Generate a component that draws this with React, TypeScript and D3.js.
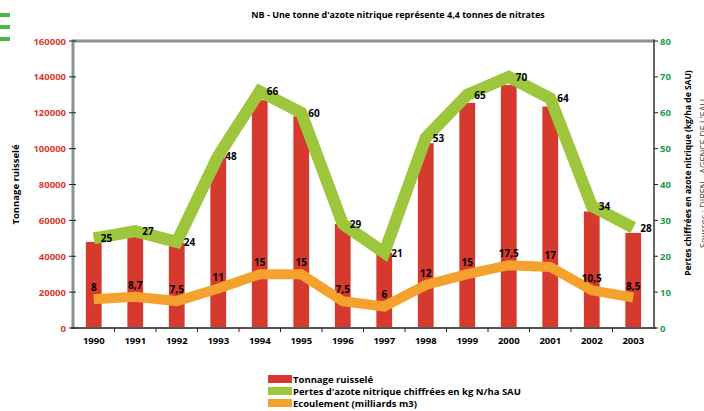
import React, { useEffect, useRef } from 'react';
import * as d3 from 'd3';

const years = ['1990', '1991', '1992', '1993', '1994', '1995', '1996', '1997', '1998', '1999', '2000', '2001', '2002', '2003'];
const tonnage = [48000, 51000, 47500, 95000, 127000, 118000, 58000, 42000, 103000, 125500, 135500, 123500, 65000, 53000];
const pertes = [25, 27, 24, 48, 66, 60, 29, 21, 53, 65, 70, 64, 34, 28];
const ecoulement = [8, 8.7, 7.5, 11, 15, 15, 7.5, 6, 12, 15, 17.5, 17, 10.5, 8.5];
const leftTicks = [0, 20000, 40000, 60000, 80000, 100000, 120000, 140000, 160000];
const rightTicks = [0, 10, 20, 30, 40, 50, 60, 70, 80];
const legendItems = [
  { label: 'Tonnage ruisselé', color: '#d63a2f' },
  { label: "Pertes d'azote nitrique chiffrées en kg N/ha SAU", color: '#9dc63c' },
  { label: 'Ecoulement (milliards m3)', color: '#f4a22d' },
];

const RED = '#d63a2f';
const GREEN = '#9dc63c';
const ORANGE = '#f4a22d';
const FONT = '"Open Sans", "DejaVu Sans", sans-serif';

const App = () => {
  const ref = useRef<SVGSVGElement | null>(null);

  useEffect(() => {
    const svg = d3.select(ref.current);
    svg.selectAll('*').remove();

    const left = 73, right = 654, top = 41, bottom = 328;

    const x = d3.scaleBand<string>().domain(years).range([left, right]).paddingInner(0.62).paddingOuter(0.31);
    const yL = d3.scaleLinear().domain([0, 160000]).range([bottom, top]);
    const yR = d3.scaleLinear().domain([0, 80]).range([bottom, top]);
    const step = x.step();
    const cx = (i: number) => (x(years[i]) as number) + x.bandwidth() / 2;

    // petites barres vertes en haut à gauche
    [15, 27, 39].forEach((yy) => {
      svg.append('rect').attr('x', 0).attr('y', yy - 2).attr('width', 10).attr('height', 4).attr('fill', '#4cb848');
    });

    // titre
    svg.append('text')
      .attr('x', 398).attr('y', 18)
      .attr('text-anchor', 'middle')
      .style('font-family', FONT).style('font-size', '9px').style('font-weight', 'bold')
      .text("NB - Une tonne d'azote nitrique représente 4,4 tonnes de nitrates");

    // barres
    svg.append('g').selectAll('rect').data(tonnage).join('rect')
      .attr('x', (d, i) => x(years[i]) as number)
      .attr('y', (d) => yL(d))
      .attr('width', x.bandwidth())
      .attr('height', (d) => bottom - yL(d))
      .attr('fill', RED);

    // cadre
    svg.append('line').attr('x1', left).attr('x2', right).attr('y1', top).attr('y2', top)
      .attr('stroke', '#8a9299').attr('stroke-width', 3);
    svg.append('line').attr('x1', left).attr('x2', left).attr('y1', top - 1.5).attr('y2', bottom)
      .attr('stroke', '#8a9299').attr('stroke-width', 3);
    svg.append('line').attr('x1', right).attr('x2', right).attr('y1', top - 1.5).attr('y2', bottom)
      .attr('stroke', '#333').attr('stroke-width', 1.5);
    svg.append('line').attr('x1', left - 2).attr('x2', right + 2).attr('y1', bottom).attr('y2', bottom)
      .attr('stroke', '#555').attr('stroke-width', 2);

    // lignes
    const lineE = d3.line<number>().x((d, i) => cx(i)).y((d) => yR(d));
    svg.append('path').datum(ecoulement).attr('d', lineE)
      .attr('fill', 'none').attr('stroke', ORANGE).attr('stroke-width', 10).attr('stroke-linejoin', 'miter');
    svg.append('path').datum(pertes).attr('d', lineE)
      .attr('fill', 'none').attr('stroke', GREEN).attr('stroke-width', 12).attr('stroke-linejoin', 'miter');

    // étiquettes
    svg.append('g').selectAll('text').data(pertes).join('text')
      .attr('x', (d, i) => cx(i) + 7)
      .attr('y', (d) => yR(d) + 4)
      .style('font-family', FONT).style('font-size', '10px').style('font-weight', 'bold')
      .text((d) => String(d));
    svg.append('g').selectAll('text').data(ecoulement).join('text')
      .attr('x', (d, i) => cx(i))
      .attr('y', (d) => yR(d) - 8)
      .attr('text-anchor', 'middle')
      .style('font-family', FONT).style('font-size', '10px').style('font-weight', 'bold')
      .text((d) => String(d).replace('.', ','));

    // axe gauche
    const gl = svg.append('g');
    leftTicks.forEach((t) => {
      gl.append('line').attr('x1', left - 4).attr('x2', left + 3).attr('y1', yL(t)).attr('y2', yL(t))
        .attr('stroke', '#222').attr('stroke-width', 1);
      gl.append('text').attr('x', left - 7).attr('y', yL(t) + 3.5).attr('text-anchor', 'end')
        .style('font-family', FONT).style('font-size', '9.5px').style('font-weight', 'bold').attr('fill', RED)
        .text(String(t));
    });

    // axe droit
    const gr = svg.append('g');
    rightTicks.forEach((t) => {
      gr.append('line').attr('x1', right).attr('x2', right + 4).attr('y1', yR(t)).attr('y2', yR(t))
        .attr('stroke', '#222').attr('stroke-width', 1);
      gr.append('text').attr('x', right + 6).attr('y', yR(t) + 3.5)
        .style('font-family', FONT).style('font-size', '9.5px').style('font-weight', 'bold').attr('fill', '#1a9a4a')
        .text(String(t));
    });

    // axe des x
    const gx = svg.append('g');
    d3.range(1, years.length).forEach((i) => {
      const xx = left + i * step;
      gx.append('line').attr('x1', xx).attr('x2', xx).attr('y1', bottom).attr('y2', bottom + 4)
        .attr('stroke', '#222').attr('stroke-width', 1);
    });
    years.forEach((yr, i) => {
      gx.append('text').attr('x', cx(i)).attr('y', bottom + 16).attr('text-anchor', 'middle')
        .style('font-family', FONT).style('font-size', '9.5px').style('font-weight', 'bold')
        .text(yr);
    });

    // titres des axes
    svg.append('text')
      .attr('transform', `translate(19,${(top + bottom) / 2}) rotate(-90)`)
      .attr('text-anchor', 'middle')
      .style('font-family', FONT).style('font-size', '9.5px').style('font-weight', 'bold')
      .text('Tonnage ruisselé');
    svg.append('text')
      .attr('transform', `translate(691,173) rotate(-90)`)
      .attr('text-anchor', 'middle')
      .style('font-family', FONT).style('font-size', '8.5px').style('font-weight', 'bold')
      .text('Pertes chiffrées en azote nitrique (kg/ha de SAU)');
    svg.append('text')
      .attr('transform', `translate(707,248) rotate(-90)`)
      .style('font-family', FONT).style('font-size', '9px').attr('fill', '#444')
      .text("Sources : DIREN - AGENCE DE L'EAU");

    // légende
    const lg = svg.append('g');
    legendItems.forEach((it, i) => {
      const yy = 375 + i * 12;
      lg.append('rect').attr('x', 268).attr('y', yy).attr('width', 24).attr('height', 8).attr('fill', it.color);
      lg.append('text').attr('x', 293).attr('y', yy + 8)
        .style('font-family', FONT).style('font-size', '9.5px').style('font-weight', 'bold')
        .text(it.label);
    });
  }, []);

  return (
    <svg ref={ref} width={704} height={411}
      style={{ position: 'absolute', left: 0, top: 0, background: '#fff' }} />
  );
};

export default App;
